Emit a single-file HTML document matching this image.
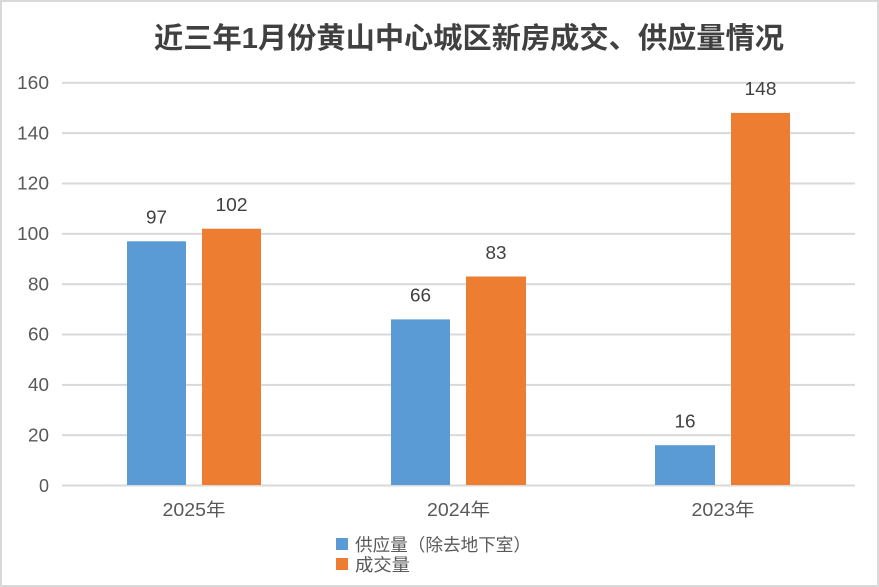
<!DOCTYPE html>
<html><head><meta charset="utf-8"><style>
html,body{margin:0;padding:0;background:#fff;}
svg{display:block;}
text{font-family:"Liberation Sans","Noto Sans CJK SC",sans-serif;}
</style></head><body>
<svg width="879" height="587" viewBox="0 0 879 587" xmlns="http://www.w3.org/2000/svg">
<rect x="1" y="1" width="877" height="585" fill="#fff" stroke="#d9d9d9" stroke-width="2"/>
<text x="469" y="48" text-anchor="middle" font-size="29" font-weight="bold" fill="#404040" textLength="630" lengthAdjust="spacingAndGlyphs">近三年1月份黄山中心城区新房成交、供应量情况</text>
<g fill="#d9d9d9">
<rect x="62" y="81.8" width="793" height="2"/>
<rect x="62" y="132.1" width="793" height="2"/>
<rect x="62" y="182.5" width="793" height="2"/>
<rect x="62" y="232.8" width="793" height="2"/>
<rect x="62" y="283.2" width="793" height="2"/>
<rect x="62" y="333.5" width="793" height="2"/>
<rect x="62" y="383.9" width="793" height="2"/>
<rect x="62" y="434.2" width="793" height="2"/>
<rect x="62" y="484.5" width="793" height="2"/>
</g>
<g font-size="18" fill="#595959" text-anchor="end">
<text x="49" y="89" textLength="32" lengthAdjust="spacingAndGlyphs">160</text>
<text x="49" y="139.3" textLength="32" lengthAdjust="spacingAndGlyphs">140</text>
<text x="49" y="189.7" textLength="32" lengthAdjust="spacingAndGlyphs">120</text>
<text x="49" y="240" textLength="32" lengthAdjust="spacingAndGlyphs">100</text>
<text x="49" y="290.4" textLength="21" lengthAdjust="spacingAndGlyphs">80</text>
<text x="49" y="340.7" textLength="21" lengthAdjust="spacingAndGlyphs">60</text>
<text x="49" y="391.1" textLength="21" lengthAdjust="spacingAndGlyphs">40</text>
<text x="49" y="441.4" textLength="21" lengthAdjust="spacingAndGlyphs">20</text>
<text x="49" y="491.8">0</text>
</g>
<g fill="#5b9bd5">
<rect x="127" y="241.3" width="59" height="243.7"/>
<rect x="391" y="319.4" width="59" height="165.6"/>
<rect x="655" y="445.2" width="60" height="39.8"/>
</g>
<g fill="#ed7d31">
<rect x="202" y="228.7" width="59" height="256.3"/>
<rect x="466" y="276.5" width="60" height="208.5"/>
<rect x="731" y="112.9" width="59" height="372.1"/>
</g>
<g font-size="18" fill="#404040" text-anchor="middle">
<text x="156.5" y="223.5" textLength="21" lengthAdjust="spacingAndGlyphs">97</text>
<text x="231.5" y="211" textLength="32" lengthAdjust="spacingAndGlyphs">102</text>
<text x="420.5" y="301.7" textLength="21" lengthAdjust="spacingAndGlyphs">66</text>
<text x="496" y="259" textLength="21" lengthAdjust="spacingAndGlyphs">83</text>
<text x="685" y="427.5" textLength="21" lengthAdjust="spacingAndGlyphs">16</text>
<text x="760.5" y="95" textLength="32" lengthAdjust="spacingAndGlyphs">148</text>
</g>
<g font-size="18" fill="#595959" text-anchor="middle">
<text x="194" y="516" textLength="63" lengthAdjust="spacingAndGlyphs">2025年</text>
<text x="458.5" y="516" textLength="63" lengthAdjust="spacingAndGlyphs">2024年</text>
<text x="723" y="516" textLength="63" lengthAdjust="spacingAndGlyphs">2023年</text>
</g>
<rect x="336" y="538" width="12" height="12" fill="#5b9bd5"/>
<rect x="336" y="558" width="12" height="12" fill="#ed7d31"/>
<g font-size="17.5" fill="#595959">
<text x="355" y="551" textLength="176" lengthAdjust="spacingAndGlyphs">供应量（除去地下室）</text>
<text x="355" y="571" textLength="55" lengthAdjust="spacingAndGlyphs">成交量</text>
</g>
</svg>
</body></html>
